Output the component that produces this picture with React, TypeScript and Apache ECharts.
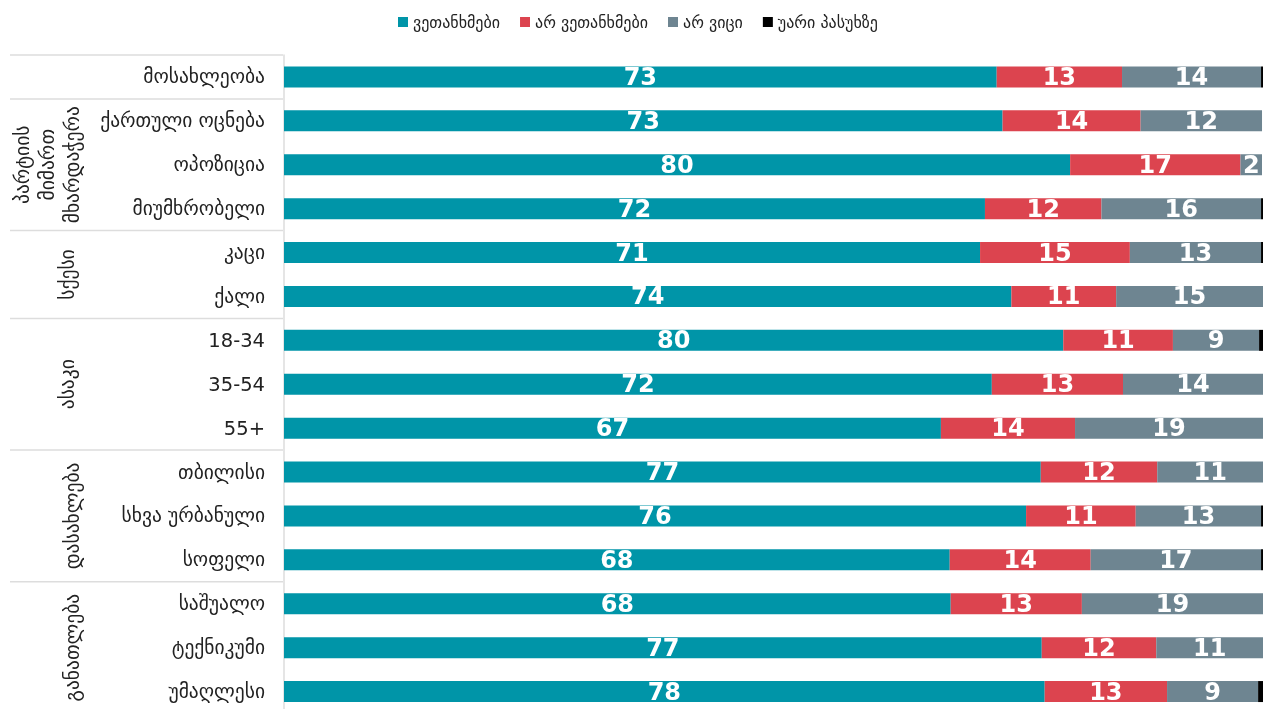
import React, { useEffect, useRef } from "react";
import * as echarts from "echarts";

const categories = [
  "მოსახლეობა",
  "ქართული ოცნება",
  "ოპოზიცია",
  "მიუმხრობელი",
  "კაცი",
  "ქალი",
  "18-34",
  "35-54",
  "55+",
  "თბილისი",
  "სხვა ურბანული",
  "სოფელი",
  "საშუალო",
  "ტექნიკუმი",
  "უმაღლესი",
];

const seriesNames = ["ვეთანხმები", "არ ვეთანხმები", "არ ვიცი", "უარი პასუხზე"];

const agree = [72.8, 73.4, 80.3, 71.6, 71.1, 74.3, 79.6, 72.3, 67.1, 77.3, 75.8, 68.0, 68.1, 77.4, 77.7];
const disagree = [12.8, 14.1, 17.4, 11.9, 15.3, 10.7, 11.2, 13.4, 13.7, 11.9, 11.2, 14.4, 13.4, 11.7, 12.5];
const dontKnow = [14.2, 12.4, 2.2, 16.3, 13.4, 15.0, 8.8, 14.3, 19.2, 10.8, 12.8, 17.4, 18.5, 10.9, 9.3];
const refused = [0.2, 0, 0, 0.2, 0.2, 0, 0.4, 0, 0, 0, 0.2, 0.2, 0, 0, 0.5];

const groups = [
  { label: "პარტიის\nმიმართ\nმხარდაჭერა", start: 1, end: 3 },
  { label: "სქესი", start: 4, end: 5 },
  { label: "ასაკი", start: 6, end: 8 },
  { label: "დასახლება", start: 9, end: 11 },
  { label: "განათლება", start: 12, end: 14 },
];

const colors = ["#0095A8", "#DC444F", "#6E8591", "#000000"];

export default function App() {
  const ref = useRef<HTMLDivElement>(null);

  useEffect(() => {
    if (!ref.current) return;
    const chart = echarts.init(ref.current, null, { renderer: "svg" });

    const gridLeft = 284;
    const gridTop = 55;
    const band = 43.9;
    const gridHeight = band * categories.length;

    const font = "DejaVu Sans";
    const values = [agree, disagree, dontKnow, refused];

    const series = values.map((arr, i) => ({
      name: seriesNames[i],
      type: "bar",
      stack: "total",
      barWidth: 21,
      data: arr,
      itemStyle: { color: colors[i] },
      label: {
        show: i < 3,
        position: "inside",
        color: "#ffffff",
        fontFamily: font,
        fontWeight: "bold",
        fontSize: 24,
        formatter: (p: any) => (p.value > 0.5 ? String(Math.round(p.value)) : ""),
      },
    }));

    const graphics: any[] = [];
    const lineStyle = { stroke: "#dddddd", lineWidth: 1.5 };
    const sepRows = [0, 1, 4, 6, 9, 12];
    sepRows.forEach((r) => {
      const y = gridTop + band * r;
      graphics.push({
        type: "line",
        shape: { x1: 10, y1: y, x2: gridLeft - 1, y2: y },
        style: lineStyle,
        silent: true,
      });
    });
    groups.forEach((g) => {
      const yc = gridTop + band * ((g.start + g.end + 1) / 2);
      const multi = g.label.includes("\n");
      graphics.push({
        type: "text",
        x: multi ? 47 : g.start >= 9 ? 72 : 67,
        y: yc,
        rotation: Math.PI / 2,
        style: {
          text: g.label,
          fontFamily: font,
          fontSize: 19.5,
          lineHeight: 25,
          fill: "#222222",
          align: "center",
          verticalAlign: "middle",
        },
        silent: true,
      });
    });

    chart.setOption({
      animation: false,
      color: colors,
      legend: {
        top: 9,
        left: 393,
        itemWidth: 10,
        itemHeight: 10,
        itemGap: 20,
        icon: "rect",
        textStyle: { fontFamily: font, fontSize: 16, color: "#222222" },
        data: seriesNames,
      },
      grid: { left: gridLeft, top: gridTop, width: 1263 - gridLeft, height: gridHeight },
      xAxis: {
        type: "value",
        min: 0,
        max: 100,
        show: false,
      },
      yAxis: {
        type: "category",
        inverse: true,
        data: categories,
        axisLine: { show: true, lineStyle: { color: "#dddddd", width: 1.5 } },
        axisTick: { show: false },
        axisLabel: {
          fontFamily: font,
          fontSize: 19.5,
          color: "#222222",
          margin: 19,
        },
      },
      series,
      graphic: graphics,
    });

    return () => chart.dispose();
  }, []);

  return (
    <div
      ref={ref}
      style={{ position: "fixed", left: 0, top: 0, width: 1263, height: 714 }}
    />
  );
}
